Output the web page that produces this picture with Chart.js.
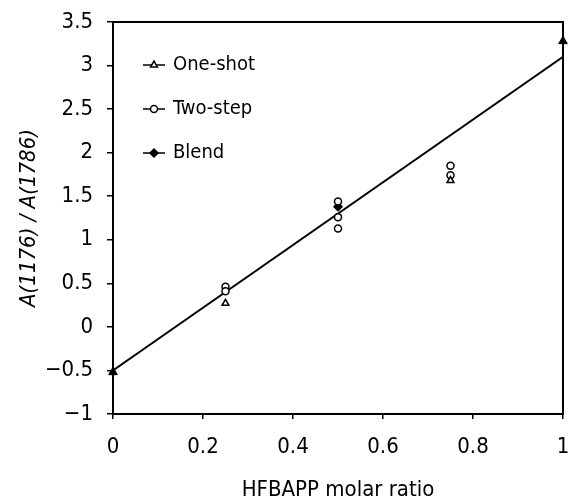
<!DOCTYPE html>
<html>
<head>
<meta charset="utf-8">
<script src="https://cdn.jsdelivr.net/npm/chart.js@4.4.1/dist/chart.umd.min.js"></script>
<style>
  html, body { margin: 0; padding: 0; background: #fff; }
  #wrap { width: 569px; height: 504px; }
</style>
</head>
<body>
<div id="wrap"><canvas id="chart"></canvas></div>
<script>
// A(1176)/A(1786) vs HFBAPP molar ratio
const FONT = "'Liberation Sans Narrow', 'DejaVu Sans Condensed', 'Liberation Sans', sans-serif";

const oneShotX = [0.25, 0.75];
const oneShotY = [0.27, 1.68];

const twoStepX = [0.25, 0.25, 0.5, 0.5, 0.5, 0.75, 0.75];
const twoStepY = [0.46, 0.41, 1.44, 1.26, 1.13, 1.85, 1.74];

const blendX = [0.5];
const blendY = [1.38];

// pure end members (filled triangles)
const endX = [0, 1];
const endY = [-0.52, 3.28];

// linear fit
const fitX = [0, 1];
const fitY = [-0.5, 3.1];

const xTicks = [0, 0.2, 0.4, 0.6, 0.8, 1];
const yTicks = [-1, -0.5, 0, 0.5, 1, 1.5, 2, 2.5, 3, 3.5];

const legendItems = ['One-shot', 'Two-step', 'Blend'];

const pts = (xs, ys) => xs.map((x, i) => ({ x: x, y: ys[i] }));
const fmt = v => String(v).replace('-', '\u2212');
const noPad = s => { s.paddingLeft = 0; s.paddingRight = 0; s.paddingTop = 0; s.paddingBottom = 0; };

// legend drawn inside the plot area, each entry a short line with its marker
const insideLegend = {
  id: 'insideLegend',
  afterDraw(chart) {
    const ctx = chart.ctx;
    const a = chart.chartArea;
    ctx.save();
    ctx.font = '20px ' + FONT;
    ctx.textBaseline = 'middle';
    ctx.strokeStyle = '#000';
    ctx.lineWidth = 1.5;
    legendItems.forEach((name, i) => {
      const ds = chart.data.datasets[i];
      const y = a.top + 43 + i * 44;
      const x0 = a.left + 30;
      ctx.beginPath();
      ctx.moveTo(x0, y);
      ctx.lineTo(x0 + 22, y);
      ctx.stroke();
      ctx.fillStyle = ds.pointBackgroundColor;
      Chart.helpers.drawPoint(ctx, {
        pointStyle: ds.pointStyle,
        radius: ds.pointRadius,
        borderWidth: ds.pointBorderWidth
      }, x0 + 11, y);
      ctx.fillStyle = '#000';
      ctx.fillText(name, x0 + 30, y);
    });
    ctx.restore();
  }
};

new Chart(document.getElementById('chart'), {
  type: 'scatter',
  data: {
    datasets: [
      {
        label: 'One-shot',
        data: pts(oneShotX, oneShotY),
        pointStyle: 'triangle',
        pointRadius: 4,
        pointBorderWidth: 1.5,
        pointBackgroundColor: '#fff',
        pointBorderColor: '#000'
      },
      {
        label: 'Two-step',
        data: pts(twoStepX, twoStepY),
        pointStyle: 'circle',
        pointRadius: 3.5,
        pointBorderWidth: 1.5,
        pointBackgroundColor: '#fff',
        pointBorderColor: '#000'
      },
      {
        label: 'Blend',
        data: pts(blendX, blendY),
        pointStyle: 'rectRot',
        pointRadius: 4,
        pointBorderWidth: 1.5,
        pointBackgroundColor: '#000',
        pointBorderColor: '#000'
      },
      {
        label: 'ends',
        data: pts(endX, endY),
        pointStyle: 'triangle',
        pointRadius: 5,
        pointBorderWidth: 1,
        pointBackgroundColor: '#000',
        pointBorderColor: '#000',
        clip: false
      },
      {
        label: 'fit',
        type: 'line',
        data: pts(fitX, fitY),
        borderColor: '#000',
        borderWidth: 1.8,
        pointRadius: 0,
        fill: false
      }
    ]
  },
  options: {
    responsive: true,
    maintainAspectRatio: false,
    animation: false,
    layout: { padding: { top: 22, right: 5, left: 0, bottom: 0 } },
    plugins: {
      legend: { display: false },
      tooltip: { enabled: false }
    },
    scales: {
      x: {
        type: 'linear',
        min: 0,
        max: 1,
        afterBuildTicks: s => { s.ticks = xTicks.map(v => ({ value: v })); },
        afterFit: s => { s.height = 90; noPad(s); },
        grid: { display: true, drawOnChartArea: false, drawTicks: true, tickLength: 5, color: '#000', lineWidth: 1.5 },
        border: { display: true, color: '#000', width: 2 },
        ticks: { color: '#000', padding: 15, font: { family: FONT, size: 22 }, callback: v => fmt(v) },
        title: { display: true, text: 'HFBAPP molar ratio', color: '#000', font: { family: FONT, size: 22 }, padding: { top: 0, bottom: 1 } }
      },
      x2: {
        type: 'linear', position: 'top', min: 0, max: 1,
        ticks: { display: false }, grid: { display: false },
        border: { display: true, color: '#000', width: 2 },
        afterFit: s => { s.height = 0; noPad(s); }
      },
      y: {
        type: 'linear',
        min: -1,
        max: 3.5,
        afterBuildTicks: s => { s.ticks = yTicks.map(v => ({ value: v })); },
        afterFit: s => { s.width = 113; noPad(s); },
        grid: { display: true, drawOnChartArea: false, drawTicks: true, tickLength: 6, color: '#000', lineWidth: 1.5 },
        border: { display: true, color: '#000', width: 2 },
        ticks: { color: '#000', padding: 14, font: { family: FONT, size: 22 }, callback: v => fmt(v) },
        title: { display: true, text: 'A(1176) / A(1786)', color: '#000', font: { family: FONT, size: 22, style: 'italic' }, padding: { top: 16, bottom: 0 } }
      },
      y2: {
        type: 'linear', position: 'right', min: -1, max: 3.5,
        ticks: { display: false }, grid: { display: false },
        border: { display: true, color: '#000', width: 2 },
        afterFit: s => { s.width = 0; noPad(s); }
      }
    }
  },
  plugins: [insideLegend]
});
</script>
</body>
</html>
